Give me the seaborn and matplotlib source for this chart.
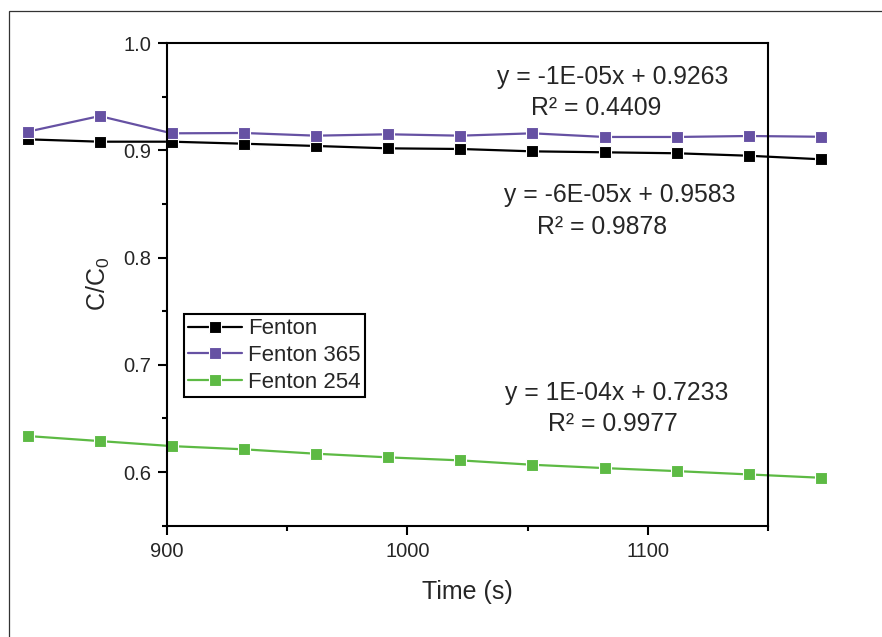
import numpy as np
import pandas as pd
import matplotlib
matplotlib.use('Agg')
import matplotlib.pyplot as plt
from matplotlib.patches import Rectangle
from matplotlib.ticker import MultipleLocator
import seaborn as sns

# data
time_s = [842, 872, 902, 932, 962, 992, 1022, 1052, 1082, 1112, 1142, 1172]
fenton = [0.9102, 0.9080, 0.9080, 0.9061, 0.9040, 0.9018,
          0.9012, 0.8990, 0.8981, 0.8972, 0.8949, 0.8916]
fenton_365 = [0.9173, 0.9319, 0.9158, 0.9161, 0.9136, 0.9149,
              0.9136, 0.9158, 0.9124, 0.9124, 0.9133, 0.9126]
fenton_254 = [0.6336, 0.6289, 0.6242, 0.6212, 0.6171, 0.6137,
              0.6109, 0.6068, 0.6037, 0.6009, 0.5978, 0.5947]
series_names = ['Fenton', 'Fenton 365', 'Fenton 254']
series_colors = ['#000000', '#6651A3', '#5DBA44']
fit_lines = [('y = -1E-05x + 0.9263', 'R² = 0.4409'),
             ('y = -6E-05x + 0.9583', 'R² = 0.9878'),
             ('y = 1E-04x + 0.7233', 'R² = 0.9977')]

sns.set_style('white')
plt.rcParams['font.family'] = ['Liberation Sans', 'DejaVu Sans']
plt.rcParams['mathtext.fontset'] = 'custom'
plt.rcParams['mathtext.rm'] = 'Liberation Sans'
plt.rcParams['mathtext.it'] = 'Liberation Sans'

fig = plt.figure(figsize=(8.82, 6.37), dpi=100)
ax = fig.add_axes([167 / 882, 1 - 525.7 / 637, 601 / 882, 482.7 / 637])

for name, vals, col in zip(series_names, [fenton, fenton_365, fenton_254], series_colors):
    sns.lineplot(x=time_s, y=vals, ax=ax, color=col, label=name, marker='s',
                 markersize=8.5, markeredgecolor='white', markeredgewidth=0.8,
                 linewidth=1.6, clip_on=False)

ax.set_xlim(900, 1150)
ax.set_ylim(0.55, 1.0)
ax.xaxis.set_major_locator(MultipleLocator(100))
ax.xaxis.set_minor_locator(MultipleLocator(50))
ax.yaxis.set_major_locator(MultipleLocator(0.1))
ax.yaxis.set_minor_locator(MultipleLocator(0.05))
ax.yaxis.set_major_formatter(matplotlib.ticker.FormatStrFormatter('%.1f'))
ax.tick_params(which='both', direction='out', left=True, bottom=True,
               top=False, right=False, width=1.5, color='black')
ax.tick_params(which='major', length=6.5, labelsize=14.5, pad=5)
ax.tick_params(which='minor', length=3.5)
for sp in ax.spines.values():
    sp.set_linewidth(1.5)
    sp.set_color('black')

ax.set_xlabel('Time (s)', fontsize=18, labelpad=14)
ax.set_ylabel('C/C$_0$', fontsize=18, labelpad=8)

# regression annotations
text_pos = [((1085.4, 0.9686), (1078.7, 0.9391)),
            ((1088.3, 0.8583), (1081.1, 0.8287)),
            ((1087.1, 0.6737), (1085.4, 0.6448))]
for (eq, r2), (p1, p2) in zip(fit_lines, text_pos):
    ax.text(p1[0], p1[1], eq, ha='center', va='center', fontsize=17.8)
    ax.text(p2[0], p2[1], r2, ha='center', va='center', fontsize=17.8)

leg = ax.legend(loc='upper left', bbox_to_anchor=(0.028, 0.4386), borderaxespad=0,
                fontsize=16, handlelength=2.4, handletextpad=0.3, labelspacing=0.26,
                borderpad=0.2, fancybox=False, framealpha=1, edgecolor='black')
leg.get_frame().set_linewidth(1.5)

# outer frame of the figure
fig.patches.append(Rectangle((9 / 882, -0.1), 1.2, 1.1 - 11 / 637, transform=fig.transFigure,
                             fill=False, edgecolor='#333333', linewidth=0.9, clip_on=False))

fig.savefig('out.png', dpi=100)
